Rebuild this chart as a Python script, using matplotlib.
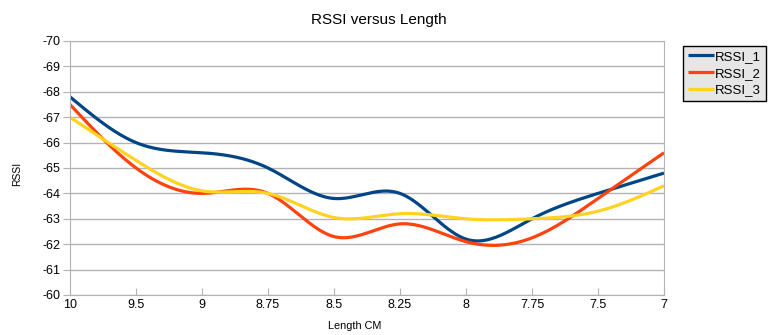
import numpy as np
import matplotlib
matplotlib.use("Agg")
import matplotlib.pyplot as plt

# categories on the x axis (evenly spaced, as in the spreadsheet chart)
lengths = ["10", "9.5", "9", "8.75", "8.5", "8.25", "8", "7.75", "7.5", "7"]

rssi_1 = [-67.8, -66.0, -65.6, -65.0, -63.8, -64.0, -62.2, -63.0, -64.0, -64.8]
rssi_2 = [-67.5, -65.0, -64.0, -64.0, -62.3, -62.8, -62.1, -62.25, -63.8, -65.6]
rssi_3 = [-67.0, -65.3, -64.1, -64.0, -63.05, -63.2, -63.0, -63.0, -63.3, -64.3]

series_names = ["RSSI_1", "RSSI_2", "RSSI_3"]
colors = ["#004586", "#ff420e", "#ffd320"]


def natural_spline(x, y, n=400):
    """Natural cubic spline through (x, y), returned on a dense grid."""
    x = np.asarray(x, dtype=float)
    y = np.asarray(y, dtype=float)
    k = len(x)
    h = np.diff(x)
    A = np.zeros((k, k))
    b = np.zeros(k)
    A[0, 0] = A[-1, -1] = 1.0
    for i in range(1, k - 1):
        A[i, i - 1] = h[i - 1]
        A[i, i] = 2 * (h[i - 1] + h[i])
        A[i, i + 1] = h[i]
        b[i] = 3 * ((y[i + 1] - y[i]) / h[i] - (y[i] - y[i - 1]) / h[i - 1])
    c = np.linalg.solve(A, b)
    xs = np.linspace(x[0], x[-1], n)
    idx = np.clip(np.searchsorted(x, xs) - 1, 0, k - 2)
    dx = xs - x[idx]
    hi = h[idx]
    bb = (y[idx + 1] - y[idx]) / hi - hi * (2 * c[idx] + c[idx + 1]) / 3
    dd = (c[idx + 1] - c[idx]) / (3 * hi)
    ys = y[idx] + bb * dx + c[idx] * dx ** 2 + dd * dx ** 3
    return xs, ys


plt.rcParams["font.family"] = ["Liberation Sans", "DejaVu Sans"]
plt.rcParams["axes.unicode_minus"] = False

fig = plt.figure(figsize=(7.68, 3.35), dpi=100)
ax = fig.add_axes([70 / 768, 1 - 295 / 335, (664 - 70) / 768, (295 - 41) / 335])

pos = np.arange(len(lengths))
for vals, name, col in zip([rssi_1, rssi_2, rssi_3], series_names, colors):
    xs, ys = natural_spline(pos, vals)
    ax.plot(xs, ys, color=col, lw=2.3, label=name, solid_capstyle="butt")

ax.set_xlim(0, len(lengths) - 1)
ax.set_ylim(-60, -70)
ax.set_yticks(np.arange(-70, -59, 1))
ax.set_xticks(pos)
ax.set_xticklabels(lengths)
ax.grid(axis="y", color="#b3b3b3", lw=1)
ax.set_axisbelow(True)
for s in ax.spines.values():
    s.set_color("#b3b3b3")
ax.tick_params(axis="x", direction="in", length=5, color="#b3b3b3", labelsize=9, pad=3)
ax.tick_params(axis="y", direction="out", length=5, color="#b3b3b3", labelsize=9, pad=2)

fig.text(379 / 768, 1 - 20 / 335, "RSSI versus Length", ha="center", va="center", fontsize=11)
fig.text(17 / 768, 1 - 174 / 335, "RSSI", rotation=90, ha="center", va="center", fontsize=7.5)
fig.text(355 / 768, 1 - 326 / 335, "Length CM", ha="center", va="center", fontsize=7.8)

leg = fig.legend(loc="upper left", bbox_to_anchor=(683 / 768, 1 - 46 / 335),
                 borderaxespad=0, fontsize=9.5, handlelength=2.0, handletextpad=0.1,
                 borderpad=0.35, labelspacing=0.35, fancybox=False, framealpha=1)
leg.get_frame().set_facecolor("#e6e6e6")
leg.get_frame().set_edgecolor("black")

fig.savefig("out.png", dpi=100)
